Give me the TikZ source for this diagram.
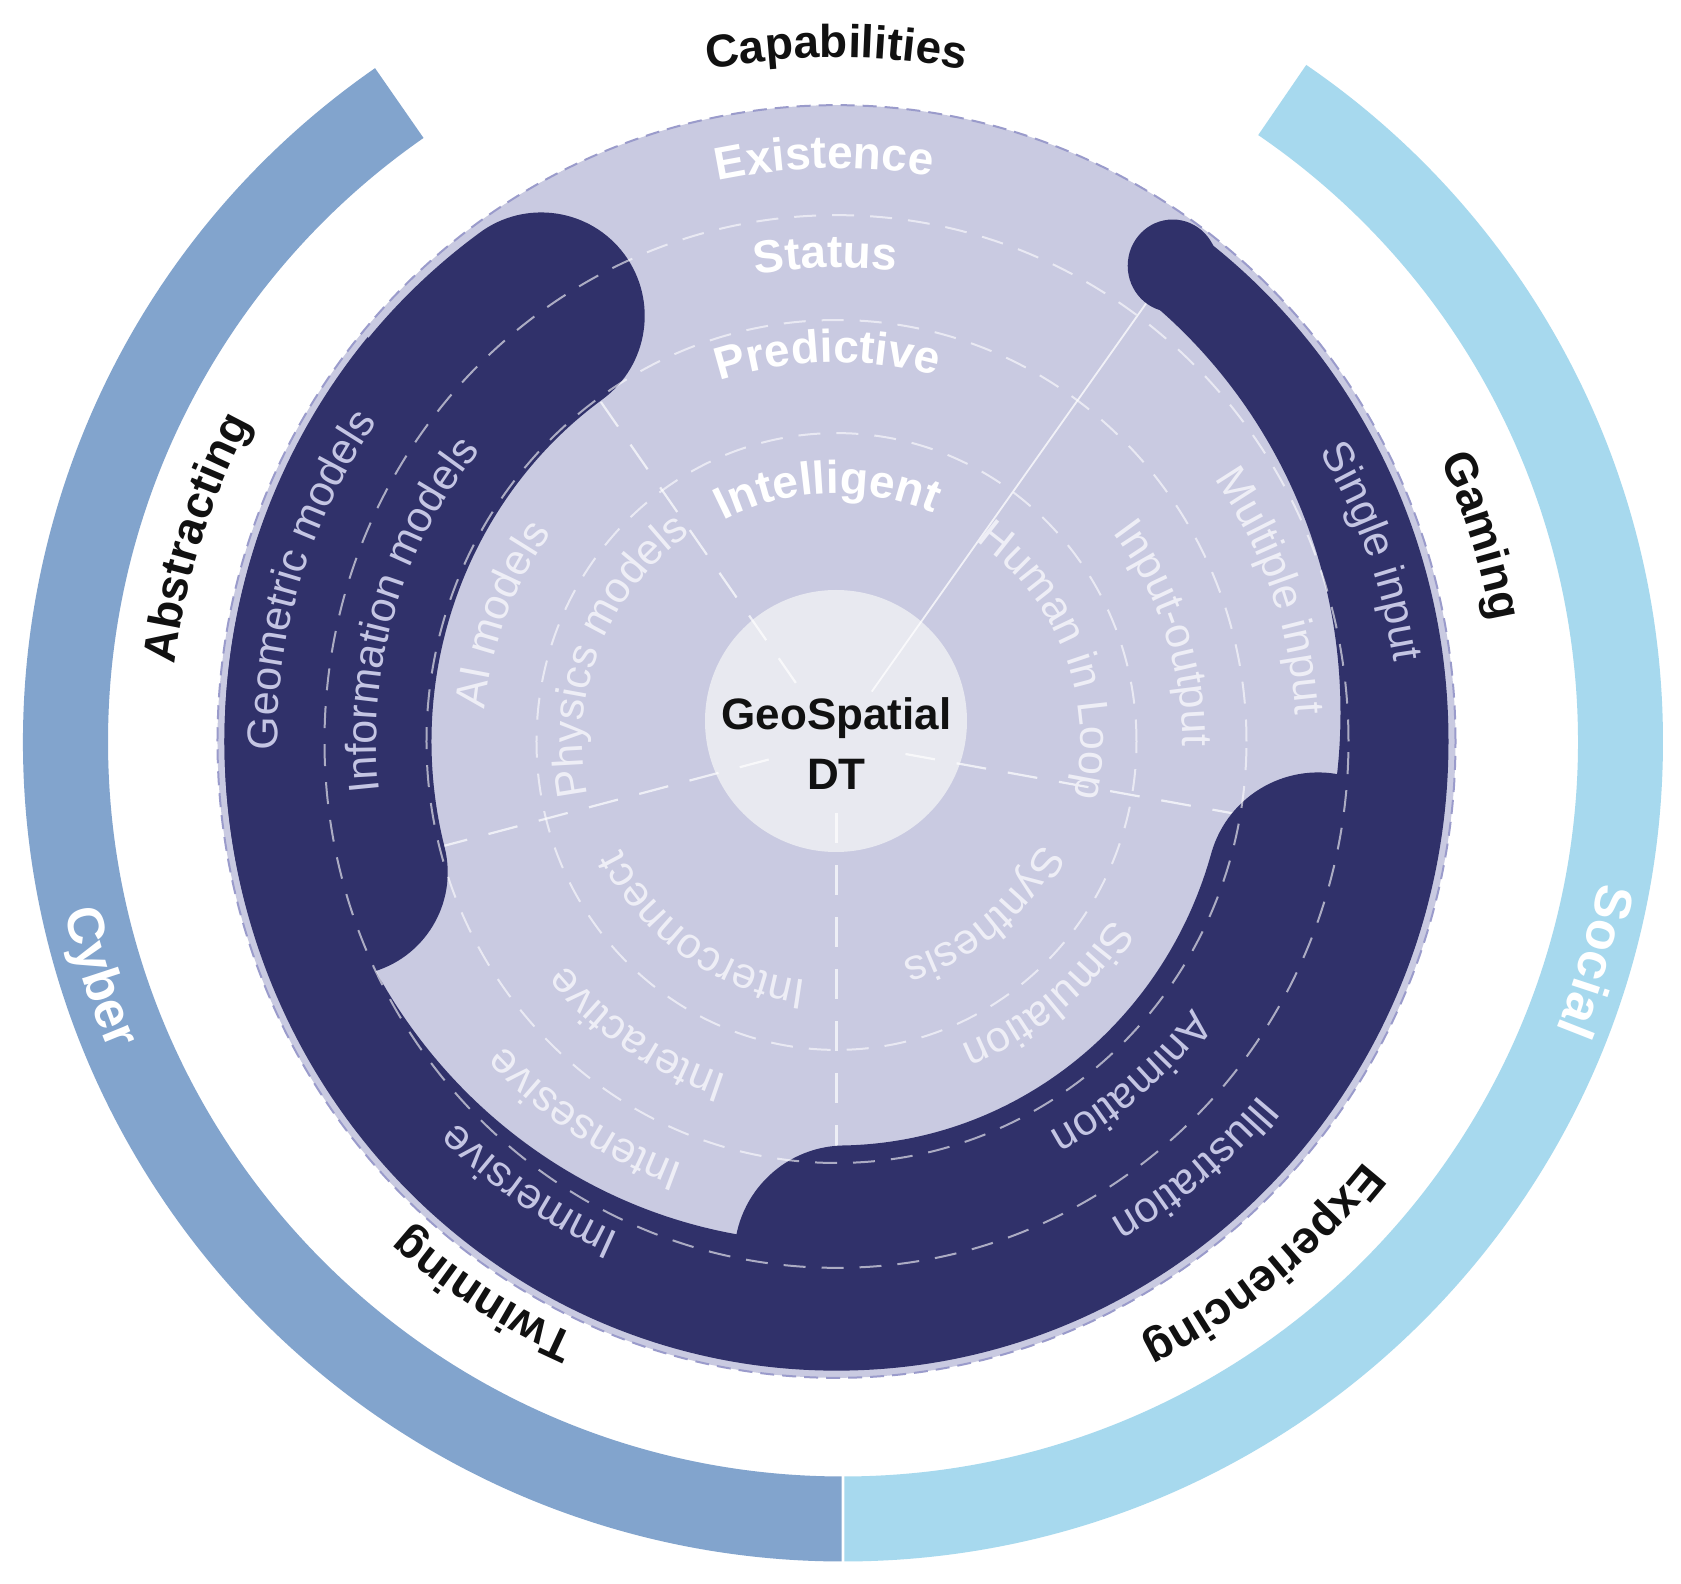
\documentclass[tikz,border=0pt]{standalone}
\usepackage{fontspec}
\setmainfont{Liberation Sans}
\usetikzlibrary{decorations.text}
\definecolor{navy}{HTML}{30316A}
\definecolor{discc}{HTML}{C9CAE1}
\definecolor{corec}{HTML}{E8E9F0}
\definecolor{cyberc}{HTML}{82A4CD}
\definecolor{socialc}{HTML}{A7D9EE}
\definecolor{rimc}{HTML}{9A9BCB}
\definecolor{lightlbl}{HTML}{EEEEF6}
\definecolor{bandlbl}{HTML}{C4C5E3}
\definecolor{ink}{HTML}{111111}
\newcommand\cwlabel[5]{%
  \pgfmathsetmacro\lblsa{#2+#3}\pgfmathsetmacro\lblea{#2-#3}%
  \path[decorate,decoration={text along path,text align=center,text={|#4|#5}}]
    (\lblsa:#1) arc[start angle=\lblsa,end angle=\lblea,radius=#1];}
\newcommand\ccwlabel[5]{%
  \pgfmathsetmacro\lblsa{#2-#3}\pgfmathsetmacro\lblea{#2+#3}%
  \path[decorate,decoration={text along path,text align=center,text={|#4|#5}}]
    (\lblsa:#1) arc[start angle=\lblsa,end angle=\lblea,radius=#1];}
\newcommand\boldblack{\fontsize{46}{46}\selectfont\bfseries\color{ink}}
\newcommand\boldwhite{\fontsize{46}{46}\selectfont\bfseries\color{white}}
\newcommand\arcwhite{\fontsize{52}{52}\selectfont\bfseries\color{white}}
\newcommand\thinband{\fontsize{43}{43}\selectfont\color{bandlbl}}
\newcommand\thinlight{\fontsize{43}{43}\selectfont\color{lightlbl}}
\begin{document}
\begin{tikzpicture}[x=1pt,y=1pt,
  ringline/.style={white,opacity=.6,line width=2,dash pattern=on 22 off 16},
  divider/.style={white,opacity=.7,line width=2.2,dash pattern=on 30 off 22},
  dividersolid/.style={white,opacity=.75,line width=1.8},
  rimline/.style={rimc,line width=2,dash pattern=on 14 off 8},
  bandwide/.style={navy,line width=207,line cap=round},
  bandwider/.style={navy,line width=222,line cap=round}]
\useasboundingbox (-836.5,-842.5) rectangle (844.5,741.5);
\fill[white] (-836.5,-842.5) rectangle (844.5,741.5);
% outer arcs
\begin{scope}[shift={(6.5,0)}]
  \fill[cyberc] (124.8:820) arc[start angle=124.8,end angle=269.9,radius=820]
    -- (269.9:735) arc[start angle=269.9,end angle=124.8,radius=735] -- cycle;
  \fill[socialc] (270.1:820) arc[start angle=270.1,end angle=415.6,radius=820]
    -- (415.6:735) arc[start angle=415.6,end angle=270.1,radius=735] -- cycle;
  \ccwlabel{797}{197.6}{40}{\arcwhite}{Cyber}
  \cwlabel{769}{-16.3}{40}{\arcwhite}{Social}
\end{scope}
% disc
\begin{scope}[yscale=1.028]
  \fill[discc] (0,0) circle (619);
\end{scope}
\fill[corec] (-0.5,20.5) circle (131);
\begin{scope}[yscale=1.028]
  \draw[divider] (125.5:70) -- (125.5:420);
  \draw[divider] (194.5:70) -- (194.5:420);
  \draw[divider] (-10:70) -- (-10:520);
  \draw[divider] (270:70) -- (270:420);
  \draw[dividersolid] (54:60) -- (54:530);
  % narrow band: outer circle minus an off-centre inner circle
  \begin{scope}
    \clip (0,0) -- (54:700) arc[start angle=54,end angle=-220,radius=700] -- cycle;
    \fill[navy,even odd rule] (0,0) circle (612) (-11,28) circle (515);
  \end{scope}
  \fill[navy] (54:572) circle (45);
  % wide bands
  \draw[bandwide] (125.5:508.5) arc[start angle=125.5,end angle=194.5,radius=508.5];
  \draw[bandwider] (271:501) arc[start angle=271,end angle=344,radius=501];
  \draw[ringline] (0,0) circle (300);
  \draw[ringline] (0,0) circle (410);
  \draw[ringline] (0,0) circle (512);
  \draw[rimline] (0,0) circle (619);
\end{scope}
% centre
\node[font=\fontsize{44}{44}\selectfont\bfseries,text=ink,anchor=base,inner sep=0] (geo) at (0,11.5) {GeoSpatial};
\node[font=\fontsize{44}{44}\selectfont\bfseries,text=ink,anchor=base,inner sep=0] (dt) at (0,-48.5) {DT};
% outer labels
\cwlabel{684}{90}{60}{\boldblack}{Capabilities}
\cwlabel{666}{162.4}{45}{\boldblack}{Abstracting}
\cwlabel{666}{17.7}{45}{\boldblack}{Gaming}
\cwlabel{648}{237.4}{45}{\boldblack}{Twinning}
\cwlabel{674}{-50.8}{45}{\boldblack}{Experiencing}
% top sector
\cwlabel{573}{91.2}{60}{\boldwhite}{Existence}
\cwlabel{474}{91.3}{60}{\boldwhite}{Status}
\cwlabel{379}{91.3}{60}{\boldwhite}{Predictive}
\cwlabel{248}{92}{80}{\boldwhite}{Intelligent}
% left sector
\cwlabel{559}{163}{50}{\thinband}{Geometric models}
\cwlabel{460}{163.5}{55}{\thinband}{Information models}
\cwlabel{353}{159.3}{60}{\thinlight}{AI models}
\cwlabel{254}{158.6}{80}{\thinlight}{Physics models}
% right sector
\cwlabel{563}{19.5}{50}{\thinband}{Single input}
\cwlabel{460}{19}{55}{\thinlight}{Multiple input}
\cwlabel{346}{18.2}{60}{\thinlight}{Input-output}
\cwlabel{244}{21}{80}{\thinlight}{Human in Loop}
% bottom-right sector
\cwlabel{551}{-50}{50}{\thinband}{Illustration}
\cwlabel{445}{-49.2}{55}{\thinband}{Animation}
\cwlabel{328}{-50.2}{60}{\thinlight}{Simulation}
\cwlabel{228}{-49.9}{80}{\thinlight}{Synthesis}
% bottom-left sector
\cwlabel{538}{235.6}{50}{\thinband}{Immersive}
\cwlabel{450}{236.3}{55}{\thinlight}{Intensesive}
\cwlabel{351}{235.7}{60}{\thinlight}{Interactive}
\cwlabel{241}{234.7}{80}{\thinlight}{Interconnect}
\end{tikzpicture}
\end{document}
